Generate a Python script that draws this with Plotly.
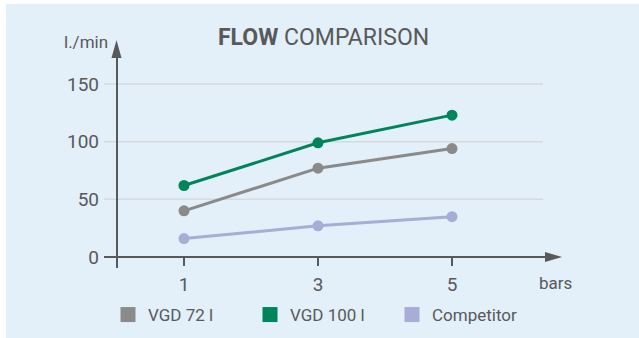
import plotly.graph_objects as go

# ---- data ----
pressure_bar = [1, 3, 5]
vgd72 = [40, 77, 94]
vgd100 = [62, 99, 123]
competitor = [16, 27, 35]
y_ticks = [0, 50, 100, 150]
x_ticks = [1, 3, 5]
series_names = ["VGD 72 l", "VGD 100 l", "Competitor"]

# ---- styling ----
W, H = 639, 338
FONT = "Roboto, DejaVu Sans, sans-serif"
TXT = "#58595b"
PANEL = "#e3eff9"
GRID = "#d7dadd"
AXIS = "#58595b"
COLORS = ["#8a8a8a", "#00845a", "#a7add6"]

# plot area in pixels
L, R, T, B = 104, 570, 32, 268
# pixel position of x=0 and y=0, and pixels per unit
X0PX, XSC = 117, 67.0
Y0PX, YSC = 257, 173.0 / 150


def px2x(px):
    return (px - X0PX) / XSC


def px2y(py):
    return (Y0PX - py) / YSC


def pxp(px):
    return (px - L) / (R - L)


def pyp(py):
    return (B - py) / (B - T)


def font(size, **kw):
    return dict(family=FONT, size=size, color=TXT, **kw)


fig = go.Figure()

for name, vals, col in zip(series_names, [vgd72, vgd100, competitor], COLORS):
    fig.add_trace(go.Scatter(
        x=pressure_bar, y=vals, mode="lines+markers", name=name,
        line=dict(color=col, width=3),
        marker=dict(color=col, size=11),
        showlegend=False, cliponaxis=False,
    ))
    # legend entry drawn as a square swatch
    fig.add_trace(go.Scatter(
        x=[None], y=[None], mode="markers", name=name,
        marker=dict(symbol="square", color=col, size=15),
        showlegend=True,
    ))

shapes = []
# light blue panel
shapes.append(dict(type="rect", xref="paper", yref="paper",
                   x0=pxp(6), x1=pxp(W + 2), y0=pyp(H + 2), y1=pyp(4),
                   fillcolor=PANEL, line=dict(width=0), layer="below"))
# gridlines
for v in y_ticks[1:]:
    shapes.append(dict(type="line", xref="x", yref="y",
                       x0=px2x(104), x1=px2x(543), y0=v, y1=v,
                       line=dict(color=GRID, width=1.5), layer="below"))
# axes
shapes.append(dict(type="line", xref="x", yref="y",
                   x0=px2x(104), x1=px2x(550), y0=0, y1=0,
                   line=dict(color=AXIS, width=2)))
shapes.append(dict(type="line", xref="x", yref="y",
                   x0=0, x1=0, y0=px2y(268), y1=px2y(55),
                   line=dict(color=AXIS, width=2)))
# arrow heads
shapes.append(dict(type="path", xref="x", yref="y",
                   path=f"M {px2x(545)},{px2y(252)} L {px2x(562)},{px2y(257)} "
                        f"L {px2x(545)},{px2y(262)} Z",
                   fillcolor=AXIS, line=dict(width=0)))
shapes.append(dict(type="path", xref="x", yref="y",
                   path=f"M {px2x(111.5)},{px2y(58)} L {px2x(116.5)},{px2y(40)} "
                        f"L {px2x(121.5)},{px2y(58)} Z",
                   fillcolor=AXIS, line=dict(width=0)))
# x tick marks
for v in x_ticks:
    shapes.append(dict(type="line", xref="x", yref="y",
                       x0=v, x1=v, y0=0, y1=px2y(266),
                       line=dict(color=AXIS, width=2)))


def label(text, xpx, ypx, size):
    return dict(text=text, xref="paper", yref="paper",
                x=pxp(xpx), y=pyp(ypx), xanchor="center", yanchor="middle",
                showarrow=False, font=font(size))


annotations = [
    label("<b>FLOW</b> COMPARISON", 323, 37, 23),
    label("l./min", 86, 42, 17),
    label("bars", 555, 283, 17),
]

fig.update_layout(
    width=W, height=H,
    margin=dict(l=L, r=W - R, t=T, b=H - B, pad=0, autoexpand=False),
    paper_bgcolor="white", plot_bgcolor="rgba(0,0,0,0)",
    shapes=shapes, annotations=annotations,
    font=font(18),
    xaxis=dict(range=[px2x(L), px2x(R)], showgrid=False, zeroline=False,
               showline=False, tickmode="array", tickvals=x_ticks,
               ticks="", ticklabelstandoff=3, fixedrange=True,
               tickfont=font(19)),
    yaxis=dict(range=[px2y(B), px2y(T)], showgrid=False, zeroline=False,
               showline=False, tickmode="array", tickvals=y_ticks,
               ticks="", ticklabelstandoff=4, fixedrange=True,
               tickfont=font(19)),
    legend=dict(orientation="h", xref="container", yref="container",
                x=108 / W, y=1 - 297 / H,
                xanchor="left", yanchor="top", itemsizing="trace",
                entrywidth=97, entrywidthmode="pixels",
                bgcolor="rgba(0,0,0,0)", font=font(17),
                itemclick=False, itemdoubleclick=False),
    showlegend=True,
)

fig.write_html("out.html")
